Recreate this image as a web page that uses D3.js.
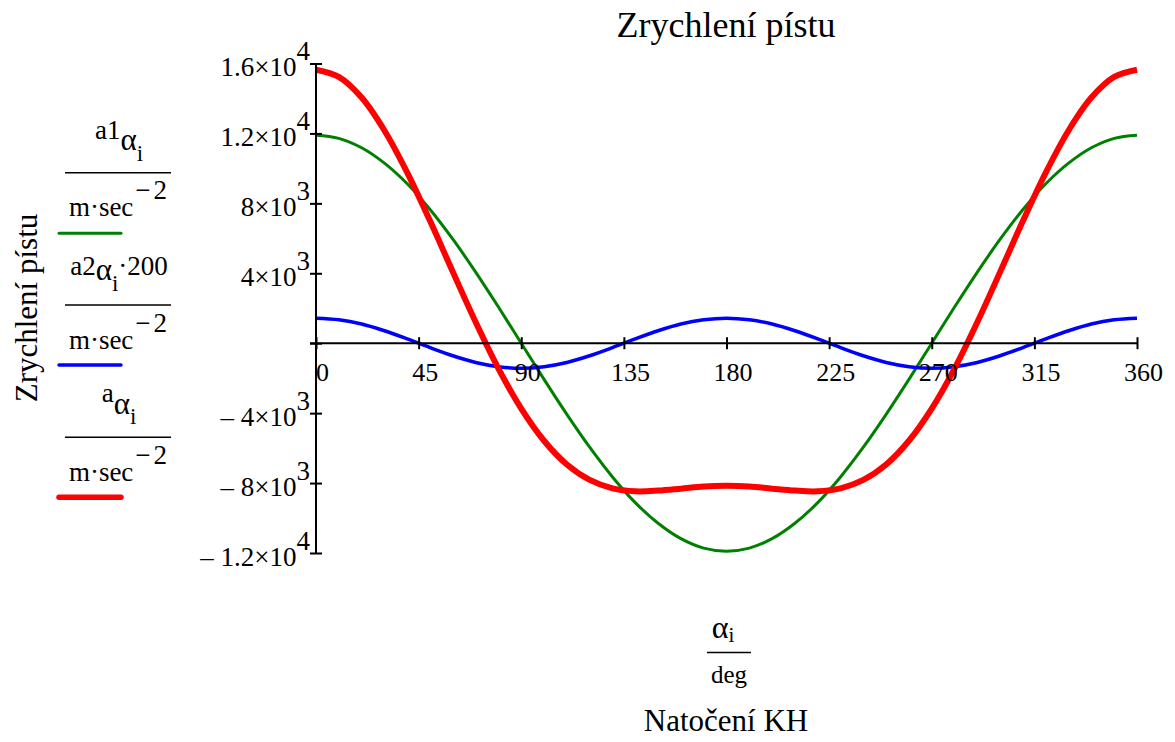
<!DOCTYPE html>
<html>
<head>
<meta charset="utf-8">
<script src="https://cdn.jsdelivr.net/npm/d3@7"></script>
<style>
  html, body { margin: 0; padding: 0; background: #fff; }
  svg { display: block; }
  text { font-family: "Liberation Serif", "Times New Roman", Times, serif; fill: #000; }
</style>
</head>
<body>
<svg id="chart" width="1175" height="742"></svg>
<script>
// ---- data ----
const alpha = [0,10,20,30,40,50,60,70,80,90,100,110,120,130,140,150,160,170,180,
               190,200,210,220,230,240,250,260,270,280,290,300,310,320,330,340,350,360];
const a1 = [11900,11720,11180,10300,9120,7650,5950,4070,2070,0,-2070,-4070,-5950,-7650,-9120,-10300,-11180,-11720,-11900,
            -11720,-11180,-10300,-9120,-7650,-5950,-4070,-2070,0,2070,4070,5950,7650,9120,10300,11180,11720,11900];
const a2x200 = [1430,1340,1100,715,250,-250,-715,-1100,-1340,-1430,-1340,-1100,-715,-250,250,715,1100,1340,1430,
                1340,1100,715,250,-250,-715,-1100,-1340,-1430,-1340,-1100,-715,-250,250,715,1100,1340,1430];
const a = [15640,15230,14050,12170,9760,7000,4080,1210,-1450,-3740,-5580,-6940,-7820,-8300,-8470,-8430,-8320,-8200,-8160,
           -8200,-8320,-8430,-8470,-8300,-7820,-6940,-5580,-3740,-1450,1210,4080,7000,9760,12170,14050,15230,15640];
const xTicks = [0,45,90,135,180,225,270,315,360];
const yTicks = [-12000,-8000,-4000,0,4000,8000,12000,16000];
const yTickMantissa = {"-12000":"\u2013 1.2\u00d710","-8000":"\u2013 8\u00d710","-4000":"\u2013 4\u00d710",
                       "4000":"4\u00d710","8000":"8\u00d710","12000":"1.2\u00d710","16000":"1.6\u00d710"};
const yTickExponent = {"-12000":"4","-8000":"3","-4000":"3","4000":"3","8000":"3","12000":"4","16000":"4"};
const title = "Zrychlení pístu";
const yLabel = "Zrychlení pístu";
const xLabel = "Natočení KH";

const series = [
  {values: a1, color: "#008000", width: 3},
  {values: a2x200, color: "#0000ff", width: 3.5},
  {values: a, color: "#ff0000", width: 6}
];

// ---- layout ----
const FONT = '"Liberation Serif", "Times New Roman", serif';
const svg = d3.select("#chart");
const x = d3.scaleLinear().domain([0, 360]).range([316, 1137]);
const y = d3.scaleLinear().domain([-12000, 16000]).range([553, 63.5]);

// title
svg.append("text").attr("x", 726).attr("y", 37).attr("text-anchor", "middle")
  .style("font-size", "36px").text(title);

// curves
const line = d3.line().x((d, i) => x(alpha[i])).y(d => y(d)).curve(d3.curveCatmullRom.alpha(0.5));
series.forEach(s => {
  svg.append("path").datum(s.values).attr("d", line)
    .attr("fill", "none").attr("stroke", s.color).attr("stroke-width", s.width)
    .attr("stroke-linejoin", "round");
});

// x axis (at y = 0)
const xAxis = svg.append("g").attr("transform", `translate(0,${y(0)})`)
  .call(d3.axisBottom(x).tickValues(xTicks).tickSizeOuter(0).tickFormat(d3.format("d")));
xAxis.select(".domain").remove();
xAxis.selectAll(".tick line").attr("y1", -6).attr("y2", 6).attr("stroke", "#000").attr("stroke-width", 2);
xAxis.selectAll(".tick text").attr("y", 38).attr("dy", 0).attr("dx", 6)
  .style("font-size", "26px").style("font-family", FONT);
xAxis.append("line").attr("x1", x(0) - 6).attr("x2", x(360)).attr("y1", 0).attr("y2", 0)
  .attr("stroke", "#000").attr("stroke-width", 2);

// y axis (at x = 0)
const yAxis = svg.append("g").attr("transform", `translate(${x(0)},0)`)
  .call(d3.axisLeft(y).tickValues(yTicks).tickSizeOuter(0).tickFormat(() => ""));
yAxis.select(".domain").remove();
yAxis.selectAll(".tick line").attr("x1", -6).attr("x2", 6).attr("stroke", "#000").attr("stroke-width", 2);
yAxis.selectAll(".tick text").each(function(d) {
  const t = d3.select(this);
  t.text(null).attr("x", -6).attr("y", 12).attr("dy", 0).attr("text-anchor", "end")
   .style("font-size", "27px").style("font-family", FONT);
  if (d === 0) return;
  t.append("tspan").text(yTickMantissa[d]);
  t.append("tspan").attr("dy", -16).text(yTickExponent[d]);
});
yAxis.append("line").attr("x1", 0).attr("x2", 0).attr("y1", y(16000)).attr("y2", y(-12000))
  .attr("stroke", "#000").attr("stroke-width", 2);

// y label
svg.append("text").attr("transform", "translate(37,308) rotate(-90)").attr("text-anchor", "middle")
  .style("font-size", "31px").text(yLabel);

// x label: alpha_i / deg
const xl = svg.append("text").attr("x", 723).attr("y", 638).attr("text-anchor", "middle").style("font-size", "32px");
xl.append("tspan").text("\u03b1");
xl.append("tspan").attr("dy", 4).style("font-size", "21px").text("i");
svg.append("line").attr("x1", 707).attr("x2", 751).attr("y1", 652.5).attr("y2", 652.5)
  .attr("stroke", "#000").attr("stroke-width", 1.5);
svg.append("text").attr("x", 729).attr("y", 683).attr("text-anchor", "middle").style("font-size", "25px").text("deg");
svg.append("text").attr("x", 726).attr("y", 731).attr("text-anchor", "middle").style("font-size", "31px").text(xLabel);

// legend
const legend = [
  {num: [["a1", 0, 27], ["\u03b1", 11, 31], ["i", 11, 23]], numY: 139, lineY: 172.7, color: "#008000", w: 3, sampleY: 233.3},
  {num: [["a2", 0, 27], ["\u03b1", 5, 31], ["i", 11, 23], ["\u00b7200", -16, 27]], numY: 275, lineY: 305, color: "#0000ff", w: 3.5, sampleY: 365},
  {num: [["a", 0, 27], ["\u03b1", 12, 31], ["i", 10, 23]], numY: 402, lineY: 437.3, color: "#ff0000", w: 5.5, sampleY: 497.3}
];
legend.forEach(L => {
  const t = svg.append("text").attr("x", 119).attr("y", L.numY).attr("text-anchor", "middle");
  L.num.forEach(p => t.append("tspan").attr("dy", p[1]).style("font-size", p[2] + "px").text(p[0]));
  svg.append("line").attr("x1", 65).attr("x2", 171).attr("y1", L.lineY).attr("y2", L.lineY)
    .attr("stroke", "#000").attr("stroke-width", 1.5);
  const dn = svg.append("text").attr("x", 118).attr("y", L.lineY + 43.5).attr("text-anchor", "middle");
  dn.append("tspan").style("font-size", "27px").text("m\u00b7sec");
  dn.append("tspan").attr("dy", -17).attr("dx", 2).style("font-size", "27px").text("\u2212");
  dn.append("tspan").attr("dx", 3).style("font-size", "27px").text("2");
  svg.append("line").attr("x1", 59).attr("x2", 121).attr("y1", L.sampleY).attr("y2", L.sampleY)
    .attr("stroke", L.color).attr("stroke-width", L.w).attr("stroke-linecap", "round");
});
</script>
</body>
</html>
